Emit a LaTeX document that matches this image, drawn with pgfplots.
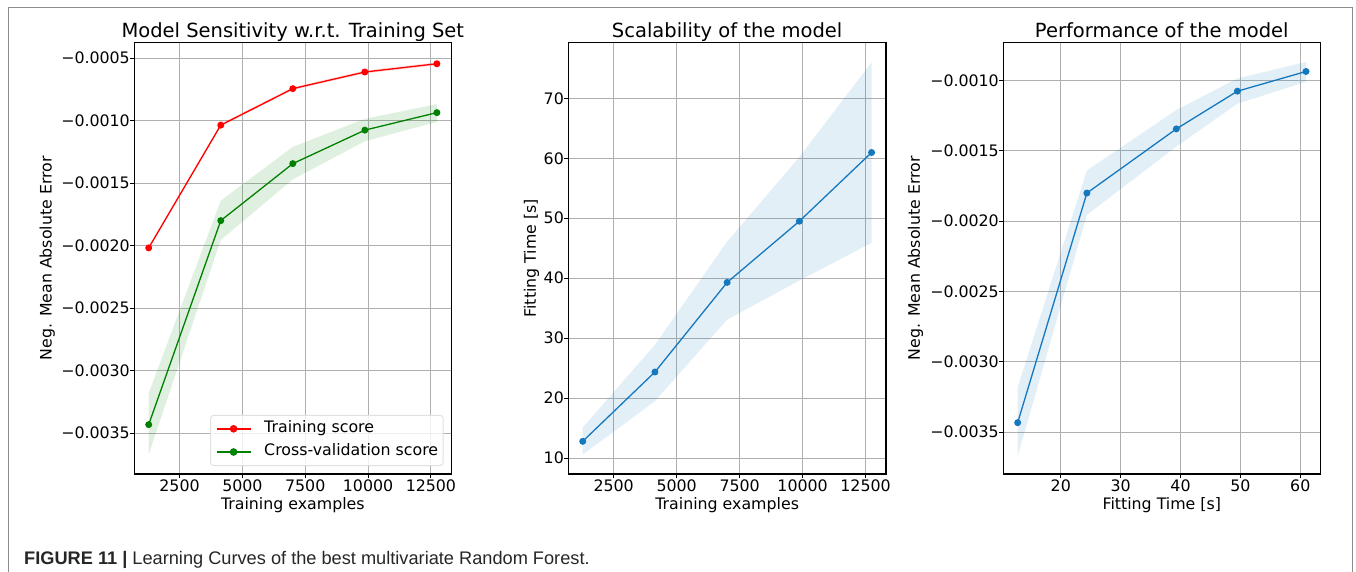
\documentclass[border=0pt]{standalone}
\usepackage{fontspec}
\setmainfont{DejaVu Sans}
\newfontfamily\capfont{Liberation Sans}
\usepackage{pgfplots}
\pgfplotsset{compat=1.18}
\definecolor{mblue}{RGB}{20,120,190}
\definecolor{mgreen}{RGB}{0,128,0}
\definecolor{mred}{RGB}{255,0,0}
\definecolor{gridc}{RGB}{176,176,176}
\definecolor{framec}{RGB}{140,140,140}
\pgfplotsset{
  panel/.style={
    scale only axis, height=431.5pt, anchor=south west,
    axis line style={black, line width=1.2pt},
    grid=major, major grid style={gridc, line width=1.1pt},
    tick align=outside, major tick length=4pt, tick style={black, line width=1.1pt},
    tick pos=left, scaled ticks=false,
    ticklabel style={font=\fontsize{15.8}{18}\selectfont},
    xticklabel style={anchor=north, inner sep=0pt, yshift=-2pt},
    yticklabel style={anchor=east, inner sep=0pt, xshift=-0.3pt},
    label style={font=\fontsize{15.8}{18}\selectfont},
    xlabel style={at={(axis description cs:0.5,0)}, anchor=north, yshift=-23pt, inner sep=0pt},
    title style={font=\fontsize{19.5}{22}\selectfont, at={(axis description cs:0.5,1)}, anchor=base, yshift=-0.8pt, inner sep=0pt},
  },
  ln/.style={line width=1.3pt, mark=*, mark size=2.8pt, mark options={solid}},
}
\begin{document}
\begin{tikzpicture}
\path[use as bounding box] (0pt,0pt) rectangle (1356pt,-571pt);
\draw[framec, line width=1.3pt] (8.3pt,-575pt) -- (8.3pt,-7.3pt) -- (1352.7pt,-7.3pt) -- (1352.7pt,-575pt);
\node[anchor=base west, inner sep=0pt, font=\capfont\fontsize{18.2}{20}\selectfont, text=black!85] at (24pt,-564pt) {\textbf{FIGURE 11 |} Learning Curves of the best multivariate Random Forest.};

% Panel 1
\begin{axis}[panel, at={(134.3pt,-474pt)}, width=317pt,
  title={Model Sensitivity w.r.t. Training Set},
  xlabel={Training examples}, ylabel={Neg. Mean Absolute Error},
  ylabel style={at={(axis description cs:-0.25,0.5)}, anchor=south, inner sep=0pt},
  xmin=701, xmax=13311, ymin=-0.003827, ymax=-0.000375,
  xtick={2500,5000,7500,10000,12500}, xticklabels={2500,5000,7500,10000,12500},
  ytick={-0.0035,-0.003,-0.0025,-0.002,-0.0015,-0.001,-0.0005},
  yticklabels={−0.0035,−0.0030,−0.0025,−0.0020,−0.0015,−0.0010,−0.0005},
  legend style={at={(rel axis cs:1,0)}, anchor=south east, xshift=-7.7pt, yshift=8pt,
    draw=black!12, line width=1pt, rounded corners=3pt, fill=white, fill opacity=0.8, text opacity=1,
    font=\fontsize{15.8}{18}\selectfont, inner xsep=5pt, inner ysep=5.7pt, row sep=7.6pt,
    nodes={inner sep=0pt, text height=11.6pt, text depth=4pt, anchor=west},
    /tikz/every odd column/.append style={column sep=12.7pt}},
  legend cell align=left,
  legend image code/.code={\draw[mark repeat=2, mark phase=2, #1, line width=1.9pt] plot coordinates {(0pt,0pt) (17pt,0pt) (34pt,0pt)};},
]
\addplot[fill=mred, fill opacity=0.12, draw=none, forget plot] coordinates {
  (1274,-0.002006) (4140,-0.001024) (7006,-0.000732) (9872,-0.000599) (12738,-0.000533)
  (12738,-0.000557) (9872,-0.000623) (7006,-0.000756) (4140,-0.001048) (1274,-0.002030)} -- cycle;
\addplot[fill=mgreen, fill opacity=0.12, draw=none, forget plot] coordinates {
  (1274,-0.00318) (4140,-0.00164) (7006,-0.00121) (9872,-0.000985) (12738,-0.000868)
  (12738,-0.00101) (9872,-0.001165) (7006,-0.00147) (4140,-0.001955) (1274,-0.00367)} -- cycle;
\addplot[ln, color=mred] coordinates {(1274,-0.002018) (4140,-0.001036) (7006,-0.000744) (9872,-0.000611) (12738,-0.000545)};
\addlegendentry{Training score}
\addplot[ln, color=mgreen] coordinates {(1274,-0.003432) (4140,-0.001800) (7006,-0.001344) (9872,-0.001076) (12738,-0.000936)};
\addlegendentry{Cross-validation score}
\end{axis}

% Panel 2
\begin{axis}[panel, at={(568.3pt,-474pt)}, width=317.7pt,
  title={Scalability of the model},
  xlabel={Training examples}, ylabel={Fitting Time [s]},
  ylabel style={at={(axis description cs:-0.0913,0.5)}, anchor=south, inner sep=0pt},
  xmin=701, xmax=13311, ymin=7.35, ymax=79.3,
  xtick={2500,5000,7500,10000,12500}, xticklabels={2500,5000,7500,10000,12500},
  ytick={10,20,30,40,50,60,70}, yticklabels={10,20,30,40,50,60,70},
]
\addplot[fill=mblue, fill opacity=0.12, draw=none] coordinates {
  (1274,15.1) (4140,28.9) (7006,46.1) (9872,60.2) (12738,76.0)
  (12738,45.9) (9872,39.6) (7006,33.1) (4140,19.5) (1274,10.6)} -- cycle;
\addplot[ln, color=mblue] coordinates {(1274,12.8) (4140,24.36) (7006,39.3) (9872,49.5) (12738,60.96)};
\end{axis}

% Panel 3
\begin{axis}[panel, at={(1003.3pt,-474pt)}, width=317pt,
  title={Performance of the model},
  xlabel={Fitting Time [s]}, ylabel={Neg. Mean Absolute Error},
  ylabel style={at={(axis description cs:-0.252,0.5)}, anchor=south, inner sep=0pt},
  xmin=10.4, xmax=63.35, ymin=-0.003797, ymax=-0.00073,
  xtick={20,30,40,50,60}, xticklabels={20,30,40,50,60},
  ytick={-0.0035,-0.003,-0.0025,-0.002,-0.0015,-0.001},
  yticklabels={−0.0035,−0.0030,−0.0025,−0.0020,−0.0015,−0.0010},
]
\addplot[fill=mblue, fill opacity=0.12, draw=none] coordinates {
  (12.8,-0.00318) (24.36,-0.00164) (39.3,-0.00121) (49.5,-0.000985) (60.96,-0.000868)
  (60.96,-0.00101) (49.5,-0.001165) (39.3,-0.00147) (24.36,-0.001955) (12.8,-0.00367)} -- cycle;
\addplot[ln, color=mblue] coordinates {(12.8,-0.003432) (24.36,-0.001800) (39.3,-0.001344) (49.5,-0.001076) (60.96,-0.000936)};
\end{axis}
\end{tikzpicture}
\end{document}
